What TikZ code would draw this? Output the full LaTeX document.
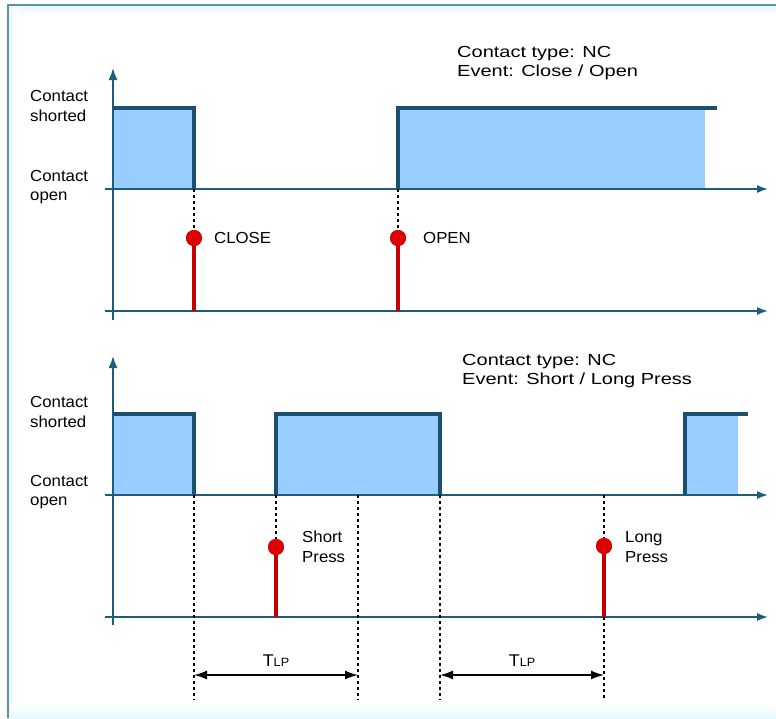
\documentclass[tikz,border=0pt]{standalone}
\usepackage{fontspec}
\setmainfont{Liberation Sans}[FakeStretch=1.05]
\newfontfamily\titlefont{Liberation Sans}[FakeStretch=1.25]
\usetikzlibrary{arrows.meta}
\definecolor{axiscol}{HTML}{1F5B7A}
\definecolor{pulsecol}{HTML}{1A4F6E}
\definecolor{fillb}{HTML}{99CCFF}
\definecolor{evred}{HTML}{C40000}
\definecolor{dotred}{HTML}{DD0000}
\definecolor{framecol}{HTML}{5F8FAA}
\definecolor{glow}{HTML}{E4F9FF}
\newcommand{\tlptext}{{\fontsize{17}{17}\selectfont T}{\fontsize{12}{12}\selectfont LP}}
\begin{document}
\begin{tikzpicture}[x=1pt,y=-1pt,
  axisline/.style={draw=axiscol, line width=1.6pt},
  uparrow/.style={axisline, -{Latex[length=12pt,width=9pt]}},
  timearrow/.style={axisline, -{Latex[length=11pt,width=8pt]}},
  pulseline/.style={draw=pulsecol, line width=3.2pt},
  pulsefill/.style={fill=fillb},
  stem/.style={draw=evred, line width=3.4pt},
  evdot/.style={circle, fill=dotred, minimum size=16pt, inner sep=0pt},
  guide/.style={draw=black, line width=1.4pt, dash pattern=on 3pt off 3pt},
  lbl/.style={font=\fontsize{16}{19.5}\selectfont, align=left, inner sep=0pt, anchor=west},
  titlelbl/.style={font=\titlefont\fontsize{16}{19.5}\selectfont, align=left, inner sep=0pt, anchor=west},
  tlparrow/.style={draw=black, line width=1.5pt, {Latex[length=13pt,width=9pt]}-{Latex[length=13pt,width=9pt]}},
  tlplbl/.style={inner sep=0pt},
]
\useasboundingbox (0,0) rectangle (776,718);
% frame
\shade[top color=glow, bottom color=white] (8,5) rectangle (776,16);
\shade[left color=glow, right color=white] (8,5) rectangle (18,718);
\shade[top color=white, bottom color=glow] (8,704) rectangle (776,718);
\draw[framecol, line width=2pt] (8,718) -- (8,5) -- (776,5);

% ================= top chart =================
\fill[pulsefill] (113,108) rectangle (194,189);
\fill[pulsefill] (398,108) rectangle (705,189);
\draw[uparrow] (113,320) -- (113,68);
\draw[timearrow] (105,189) -- (768,189);
\draw[timearrow] (105,311) -- (768,311);
\draw[pulseline] (113,108) -- (194,108) -- (194,189);
\draw[pulseline] (398,189) -- (398,108) -- (717,108);

\node[lbl] (tshort) at (30,106) {Contact\\shorted};
\node[lbl] (topen) at (30,187) {Contact\\open};
\node[titlelbl] (ttitle) at (457,63) {Contact type: NC\\Event: Close / Open};

\coordinate (closeTop) at (194,189);
\coordinate (closeBase) at (194,311);
\node[evdot] (close) at (194,238) {};
\draw[guide] (closeTop) -- (close.north);
\draw[stem] (close.center) -- (closeBase);
\node[evdot] at (close) {};
\node[lbl] (closelbl) at (214,238) {CLOSE};

\coordinate (openTop) at (398,189);
\coordinate (openBase) at (398,311);
\node[evdot] (open) at (398,238) {};
\draw[guide] (openTop) -- (open.north);
\draw[stem] (open.center) -- (openBase);
\node[evdot] at (open) {};
\node[lbl] (openlbl) at (423,238) {OPEN};

% ================= bottom chart =================
\fill[pulsefill] (113,414) rectangle (194,495);
\fill[pulsefill] (276,414) rectangle (440,495);
\fill[pulsefill] (685,414) rectangle (738,495);
\draw[uparrow] (113,625) -- (113,356);
\draw[timearrow] (105,495) -- (768,495);
\draw[timearrow] (105,617) -- (768,617);
\draw[pulseline] (113,414) -- (194,414) -- (194,495);
\draw[pulseline] (276,495) -- (276,414) -- (440,414) -- (440,495);
\draw[pulseline] (685,495) -- (685,414) -- (748,414);

\node[lbl] (bshort) at (30,412) {Contact\\shorted};
\node[lbl] (bopen) at (30,492) {Contact\\open};
\node[titlelbl] (btitle) at (462,371) {Contact type: NC\\Event: Short / Long Press};

% guides
\coordinate (g1t) at (194,495); \coordinate (g1b) at (194,700);
\coordinate (g2t) at (358,495); \coordinate (g2b) at (358,700);
\coordinate (g3t) at (440,495); \coordinate (g3b) at (440,700);
\draw[guide] (g1t) -- (g1b);
\draw[guide] (g2t) -- (g2b);
\draw[guide] (g3t) -- (g3b);

% short press
\coordinate (spTop) at (276,495);
\coordinate (spBase) at (276,617);
\node[evdot] (sp) at (276,547) {};
\draw[guide] (spTop) -- (sp.north);
\draw[stem] (sp.center) -- (spBase);
\node[evdot] at (sp) {};
\node[lbl] (splbl) at (302,547) {Short\\Press};

% long press
\coordinate (lpTop) at (604,495);
\coordinate (lpBase) at (604,617);
\coordinate (lpEnd) at (604,700);
\node[evdot] (lp) at (604,546) {};
\draw[guide] (lpTop) -- (lp.north);
\draw[stem] (lp.center) -- (lpBase);
\draw[guide] (lpBase) -- (lpEnd);
\node[evdot] at (lp) {};
\node[lbl] (lplbl) at (625,547) {Long\\Press};

% TLP arrows
\coordinate (t1a) at (194,675); \coordinate (t1b) at (358,675);
\coordinate (t2a) at (440,675); \coordinate (t2b) at (604,675);
\draw[tlparrow] (t1a) -- (t1b);
\draw[tlparrow] (t2a) -- (t2b);
\node[tlplbl] (tlp1) at (276,661) {\tlptext};
\node[tlplbl] (tlp2) at (522,661) {\tlptext};
\end{tikzpicture}
\end{document}
